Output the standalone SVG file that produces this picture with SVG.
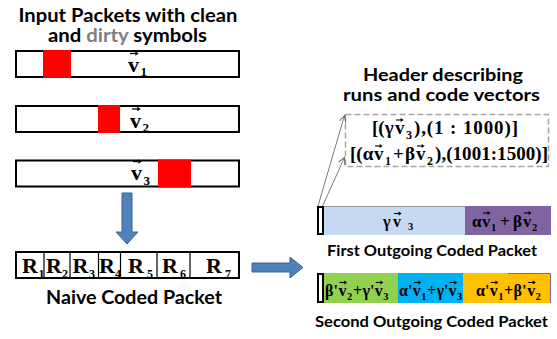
<svg xmlns="http://www.w3.org/2000/svg" xmlns:xlink="http://www.w3.org/1999/xlink" width="557" height="339" viewBox="0 0 557 339">
  <style>
    .box { fill: #fff; stroke: #000; stroke-width: 2; }
    .dirty { fill: #ff0000; }
    .div { stroke: #000; stroke-width: 1.2; }
    .lbl { font-family: Lato, "Liberation Sans", sans-serif; font-weight: bold; fill: #000; }
    .m { font-family: "Liberation Serif", "Times New Roman", serif; font-weight: bold; fill: #000; }
    .m22 { font-size: 22px; }
    .m19 { font-size: 19px; }
    .m17 { font-size: 17px; }
    .m16 { font-size: 16px; }
    .s13 { font-size: 13px; }
    .s12 { font-size: 12px; }
    .s10 { font-size: 10.5px; }
    .blk { fill: #4f81bd; stroke: #3a6594; stroke-width: 1; }
    .thin { fill: none; stroke: #595959; stroke-width: 0.8; marker-end: url(#open); }
  </style>
  <defs>
    <!-- vector arrow drawn above a "v" -->
    <g id="vec">
      <path d="M0 0H5.6" stroke="#000" stroke-width="1.1"/>
      <path d="M4.6 -1.9L7.6 0L4.6 1.9Z" fill="#000"/>
    </g>
    <marker id="open" viewBox="0 0 8 8" refX="7" refY="4" markerWidth="8" markerHeight="8" markerUnits="userSpaceOnUse" orient="auto">
      <path d="M0 0.5L7 4L0 7.5" fill="none" stroke="#595959" stroke-width="0.9"/>
    </marker>
  </defs>

  <!-- title of the input side -->
  <g id="input-title">
    <text class="lbl" x="128" y="21.5" font-size="18" text-anchor="middle" textLength="219" lengthAdjust="spacingAndGlyphs">Input Packets with clean</text>
    <text class="lbl" x="127.5" y="41.5" font-size="18" text-anchor="middle" textLength="159" lengthAdjust="spacingAndGlyphs">and <tspan fill="#7f7f7f">dirty</tspan> symbols</text>
  </g>

  <!-- input packet v1 -->
  <g id="packet-v1">
    <rect class="box" x="16" y="51" width="223" height="26"/>
    <rect class="dirty" x="43" y="50" width="28" height="28"/>
    <text class="m m22" x="128" y="72">v</text>
    <use xlink:href="#vec" transform="translate(130 53.5) scale(1.15)"/>
    <text class="m s13" x="140.5" y="76">1</text>
  </g>

  <!-- input packet v2 -->
  <g id="packet-v2">
    <rect class="box" x="16" y="106" width="223" height="26"/>
    <rect class="dirty" x="98" y="105" width="22" height="28"/>
    <text class="m m22" x="130" y="127.5">v</text>
    <use xlink:href="#vec" transform="translate(132 109) scale(1.15)"/>
    <text class="m s13" x="142.5" y="131.5">2</text>
  </g>

  <!-- input packet v3 -->
  <g id="packet-v3">
    <rect class="box" x="16" y="160.5" width="223" height="26"/>
    <rect class="dirty" x="158" y="159.5" width="33" height="28"/>
    <text class="m m22" x="131" y="180">v</text>
    <use xlink:href="#vec" transform="translate(133 161.5) scale(1.15)"/>
    <text class="m s13" x="143.5" y="185">3</text>
  </g>

  <!-- naive coded packet made of seven runs -->
  <g id="naive-packet">
    <rect class="box" x="16" y="252" width="223" height="26"/>
    <path class="div" d="M44 252V278M70 252V278M98.5 252V278M120.5 252V278M157 252V278M190 252V278"/>
    <text class="m m22" x="22" y="273">R</text><text class="m s12" x="38.5" y="278">1</text>
    <text class="m m22" x="46" y="273">R</text><text class="m s12" x="62" y="278">2</text>
    <text class="m m22" x="72.5" y="273">R</text><text class="m s12" x="89" y="278">3</text>
    <text class="m m22" x="99" y="273">R</text><text class="m s12" x="115" y="278">4</text>
    <text class="m m22" x="128" y="273">R</text><text class="m s12" x="147" y="278">5</text>
    <text class="m m22" x="162" y="273">R</text><text class="m s12" x="180" y="278">6</text>
    <text class="m m22" x="206" y="273">R</text><text class="m s12" x="225" y="278">7</text>
    <text class="lbl" x="134" y="304" font-size="19" text-anchor="middle" textLength="176" lengthAdjust="spacingAndGlyphs">Naive Coded Packet</text>
  </g>

  <!-- header title and dashed header box -->
  <g id="header">
    <text class="lbl" x="443" y="80.5" font-size="16.5" text-anchor="middle" textLength="160" lengthAdjust="spacingAndGlyphs">Header describing</text>
    <text class="lbl" x="441.5" y="100.5" font-size="16.5" text-anchor="middle" textLength="197" lengthAdjust="spacingAndGlyphs">runs and code vectors</text>
    <rect x="345.5" y="114.5" width="203" height="52" fill="#fff" stroke="#a6a6a6" stroke-width="1.5" stroke-dasharray="6 3"/>
    <!-- line 1 -->
    <text class="m m19" x="372" y="134">[(γ</text>
    <text class="m m19" x="395" y="134">v</text>
    <use xlink:href="#vec" transform="translate(396 120)"/>
    <text class="m s12" x="406" y="138.5">3</text>
    <text class="m m19" x="414" y="134" textLength="104" lengthAdjust="spacing">),(1 : 1000)]</text>
    <!-- line 2 -->
    <text class="m m19" x="350" y="160">[(α</text>
    <text class="m m19" x="374" y="160">v</text>
    <use xlink:href="#vec" transform="translate(375 146)"/>
    <text class="m s12" x="385" y="164.5">1</text>
    <text class="m m19" x="393" y="160">+</text>
    <text class="m m19" x="405" y="160">β</text>
    <text class="m m19" x="416" y="160">v</text>
    <use xlink:href="#vec" transform="translate(417 146)"/>
    <text class="m s12" x="427" y="164.5">2</text>
    <text class="m m19" x="435" y="160" textLength="113" lengthAdjust="spacing">),(1001:1500)]</text>
  </g>

  <!-- first outgoing coded packet -->
  <g id="first-packet">
    <rect x="323" y="206" width="142" height="29" fill="#c6d9f1"/>
    <path d="M323 206.5H465" stroke="#9a9a9a" stroke-width="1"/>
    <rect x="465" y="206" width="86" height="29" fill="#8064a2"/>
    <rect class="box" x="318" y="207" width="5" height="27"/>
    <text class="m m16" x="383" y="227">γ</text>
    <text class="m m16" x="393" y="227">v</text>
    <use xlink:href="#vec" transform="translate(394 213.5)"/>
    <text class="m s10" x="408" y="230">3</text>
    <text class="m m17" x="472" y="227">α</text>
    <text class="m m17" x="482" y="227">v</text>
    <use xlink:href="#vec" transform="translate(483 213)"/>
    <text class="m s10" x="491" y="230.5">1</text>
    <text class="m m17" x="500" y="227">+</text>
    <text class="m m17" x="513" y="227">β</text>
    <text class="m m17" x="523" y="227">v</text>
    <use xlink:href="#vec" transform="translate(524 213)"/>
    <text class="m s10" x="532" y="230.5">2</text>
    <text class="lbl" x="432" y="256" font-size="15.5" text-anchor="middle" textLength="210" lengthAdjust="spacingAndGlyphs">First Outgoing Coded Packet</text>
  </g>

  <!-- second outgoing coded packet -->
  <g id="second-packet">
    <rect x="323" y="273" width="75" height="30" fill="#92d050"/>
    <rect x="398" y="273" width="65" height="30" fill="#00b0f0"/>
    <rect x="463" y="273" width="88" height="30" fill="#ffc000"/>
    <path d="M508 273.5H550.5V303" fill="none" stroke="#8064a2" stroke-width="1"/>
    <rect class="box" x="318" y="274" width="5" height="28"/>
    <!-- β'v2 + γ'v3 -->
    <text class="m m16" x="325" y="296">β'</text>
    <text class="m m16" x="338.5" y="296">v</text>
    <use xlink:href="#vec" transform="translate(339.5 282.5)"/>
    <text class="m s10" x="347" y="299.5">2</text>
    <text class="m m16" x="353" y="296">+</text>
    <text class="m m16" x="362.5" y="296">γ'</text>
    <text class="m m16" x="374.8" y="296">v</text>
    <use xlink:href="#vec" transform="translate(375.8 282.5)"/>
    <text class="m s10" x="383.2" y="299.5">3</text>
    <!-- α'v1 + γ'v3 -->
    <text class="m m16" x="399" y="296">α'</text>
    <text class="m m16" x="412.8" y="296">v</text>
    <use xlink:href="#vec" transform="translate(413.8 282.5)"/>
    <text class="m s10" x="421.2" y="299.5">1</text>
    <text class="m m16" x="427" y="296">+</text>
    <text class="m m16" x="436.4" y="296">γ'</text>
    <text class="m m16" x="448.6" y="296">v</text>
    <use xlink:href="#vec" transform="translate(449.6 282.5)"/>
    <text class="m s10" x="457" y="299.5">3</text>
    <!-- α'v1 + β'v2 -->
    <text class="m m16" x="476" y="296">α'</text>
    <text class="m m16" x="489.8" y="296">v</text>
    <use xlink:href="#vec" transform="translate(490.8 282.5)"/>
    <text class="m s10" x="498.2" y="299.5">1</text>
    <text class="m m16" x="504" y="296">+</text>
    <text class="m m16" x="513.6" y="296">β'</text>
    <text class="m m16" x="527.2" y="296">v</text>
    <use xlink:href="#vec" transform="translate(528.2 282.5)"/>
    <text class="m s10" x="535.6" y="299.5">2</text>
    <text class="lbl" x="431.5" y="327" font-size="16" text-anchor="middle" textLength="233" lengthAdjust="spacingAndGlyphs">Second Outgoing Coded Packet</text>
  </g>

  <!-- connectors -->
  <g id="connectors">
    <path class="blk" d="M122 193H132V232H138L127 244L116 232H122Z"/>
    <path class="blk" d="M252 263H290V257L303 267.5L290 278V272H252Z"/>
    <path class="thin" d="M318 206L344.5 115.5"/>
    <path class="thin" d="M322.5 206L344.5 157.5"/>
  </g>
</svg>
